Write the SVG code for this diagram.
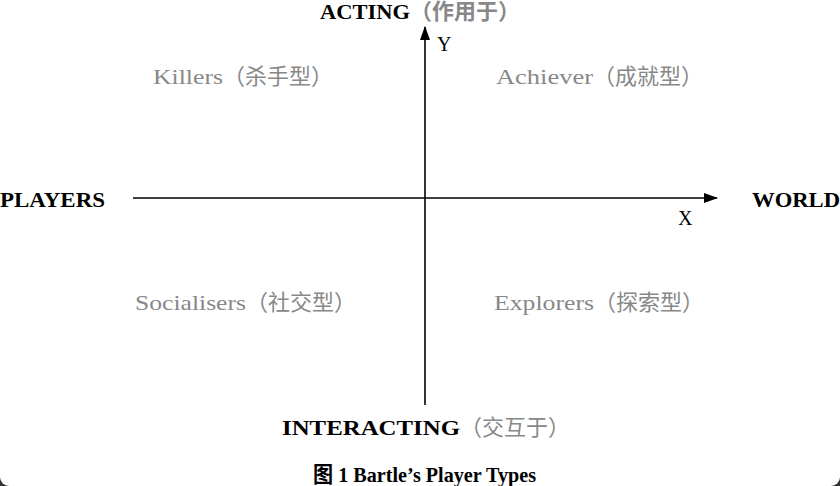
<svg xmlns="http://www.w3.org/2000/svg" width="840" height="486" viewBox="0 0 840 486">
<style>
.q{font-family:"Liberation Serif","Noto Sans CJK SC",serif;font-size:22px;fill:#888}
.b{font-family:"Liberation Serif","Noto Sans CJK SC",serif;font-size:22px;font-weight:bold;fill:#000}
.g{fill:#888}
.ax{font-family:"Liberation Serif",serif;font-size:20px;fill:#000}
.ln{stroke:#000;stroke-width:1.6;fill:none}
</style>
<defs>
<marker id="ah" markerWidth="14" markerHeight="10" refX="13" refY="5" orient="auto" markerUnits="userSpaceOnUse">
<path d="M0,0 L14,5 L0,10 Z" fill="#000"/>
</marker>
</defs>
<rect x="0" y="0" width="840" height="486" fill="#333"/>
<rect x="0" y="-10" width="840" height="496" rx="9" fill="#fff"/>
<g id="connectors">
<line class="ln" x1="425" y1="405" x2="425" y2="27" marker-end="url(#ah)"/>
<line class="ln" x1="133" y1="198" x2="717" y2="198" marker-end="url(#ah)"/>
</g>
<g id="acting"><text class="b" x="320" y="19" font-size="21"><tspan textLength="90" lengthAdjust="spacingAndGlyphs">ACTING</tspan><tspan class="g">（作用于）</tspan></text></g>
<g id="y-label"><text class="ax" x="437" y="51">Y</text></g>
<g id="x-label"><text class="ax" x="678" y="225">X</text></g>
<g id="killers"><text class="q" x="153" y="84"><tspan textLength="70" lengthAdjust="spacingAndGlyphs">Killers</tspan>（杀手型）</text></g>
<g id="achiever"><text class="q" x="496" y="84"><tspan textLength="97" lengthAdjust="spacingAndGlyphs">Achiever</tspan>（成就型）</text></g>
<g id="players"><text class="b" x="0" y="207" textLength="105" lengthAdjust="spacingAndGlyphs">PLAYERS</text></g>
<g id="world"><text class="b" x="752" y="207" textLength="88" lengthAdjust="spacingAndGlyphs">WORLD</text></g>
<g id="socialisers"><text class="q" x="135" y="310"><tspan textLength="111" lengthAdjust="spacingAndGlyphs">Socialisers</tspan>（社交型）</text></g>
<g id="explorers"><text class="q" x="494" y="310"><tspan textLength="100" lengthAdjust="spacingAndGlyphs">Explorers</tspan>（探索型）</text></g>
<g id="interacting"><text class="b" x="282" y="435"><tspan textLength="178" lengthAdjust="spacingAndGlyphs">INTERACTING</tspan><tspan class="g" font-weight="normal">（交互于）</tspan></text></g>
<g id="caption"><text class="b" x="313" y="482" font-size="17" textLength="223" lengthAdjust="spacingAndGlyphs">图 1 Bartle’s Player Types</text></g>
</svg>
